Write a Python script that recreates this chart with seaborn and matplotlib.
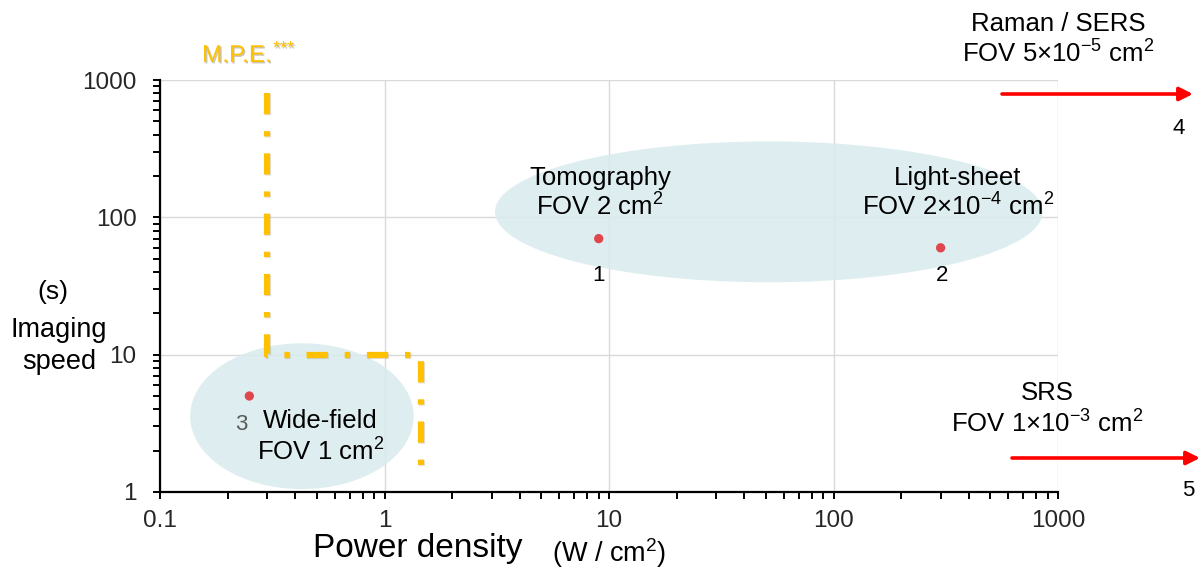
import matplotlib
matplotlib.use("Agg")
import matplotlib.pyplot as plt
import matplotlib.patheffects as pe
from matplotlib.patches import Ellipse, FancyArrowPatch
from matplotlib.ticker import FixedLocator, FixedFormatter, LogLocator, NullFormatter
import seaborn as sns
import pandas as pd

# ---------------- data ----------------
techniques = ["Tomography", "Light-sheet", "Wide-field"]
point_ids = ["1", "2", "3"]
power_density = [9, 300, 0.25]        # W / cm^2
imaging_speed = [70, 60, 5]           # s
fov_labels = ["FOV 2 cm$^{2}$", "FOV 2×10$^{-4}$ cm$^{2}$", "FOV 1 cm$^{2}$"]

mpe_x = [0.3, 0.3, 1.45, 1.45]        # M.P.E. boundary
mpe_y = [800, 10, 10, 1.28]

x_ticks = [0.1, 1, 10, 100, 1000]
x_tick_labels = ["0.1", "1", "10", "100", "1000"]
y_ticks = [1, 10, 100, 1000]
y_tick_labels = ["1", "10", "100", "1000"]

# ---------------- style ----------------
sns.set_style("white")
plt.rcParams["font.family"] = ["Liberation Sans", "DejaVu Sans"]
plt.rcParams["mathtext.fontset"] = "custom"
plt.rcParams["mathtext.rm"] = "Liberation Sans"
plt.rcParams["mathtext.it"] = "Liberation Sans:italic"
plt.rcParams["mathtext.bf"] = "Liberation Sans:bold"

W, H = 1200, 579
fig = plt.figure(figsize=(12, 5.79), dpi=100)
L, R, B, T = 160, 1058, 492, 80
ax = fig.add_axes([L / W, 1 - B / H, (R - L) / W, (B - T) / H])

ax.set_xscale("log")
ax.set_yscale("log")
ax.set_xlim(0.1, 1000)
ax.set_ylim(1, 1000)

ax.set_axisbelow(True)
ax.grid(True, which="major", color="#d9d9d9", lw=1.0)

for s in ["top", "right"]:
    ax.spines[s].set_visible(False)
for s in ["left", "bottom"]:
    ax.spines[s].set_color("black")
    ax.spines[s].set_linewidth(1.6)

ax.xaxis.set_major_locator(FixedLocator(x_ticks))
ax.xaxis.set_major_formatter(FixedFormatter(x_tick_labels))
ax.yaxis.set_major_locator(FixedLocator(y_ticks))
ax.yaxis.set_major_formatter(FixedFormatter(y_tick_labels))
ax.xaxis.set_minor_locator(LogLocator(base=10, subs=range(2, 10)))
ax.yaxis.set_minor_locator(LogLocator(base=10, subs=range(2, 10)))
ax.xaxis.set_minor_formatter(NullFormatter())
ax.yaxis.set_minor_formatter(NullFormatter())
ax.tick_params(axis="both", which="both", direction="out", length=5, width=1.4,
               color="black", left=True, bottom=True)
ax.tick_params(axis="x", which="major", labelsize=17.5, pad=8)
ax.tick_params(axis="y", which="major", labelsize=17.5, pad=12)

# ellipses (axes coordinates)
ell_color = "#d9ecee"
ax.add_patch(Ellipse((0.678, 0.680), 0.610, 0.342, transform=ax.transAxes,
                     facecolor=ell_color, edgecolor="none", alpha=0.85, zorder=0.8))
ax.add_patch(Ellipse((0.158, 0.184), 0.249, 0.354, transform=ax.transAxes,
                     facecolor=ell_color, edgecolor="none", alpha=0.85, zorder=0.8,
                     clip_on=False))

# M.P.E. boundary
ax.plot(mpe_x, mpe_y, color="#ffc000", lw=4.5, solid_capstyle="butt",
        dash_capstyle="butt", linestyle=(0, (3.4, 2.7, 0.85, 2.7)), zorder=3,
        path_effects=[pe.SimpleLineShadow(offset=(0.8, -0.8), alpha=0.12), pe.Normal()])

# points
df = pd.DataFrame({"power": power_density, "speed": imaging_speed, "tech": techniques})
sns.scatterplot(data=df, x="power", y="speed", ax=ax, color="#e0474c", s=45,
                edgecolor="none", zorder=4, legend=False)
ax.set_xlabel("")
ax.set_ylabel("")


def ftext(px, py, s, size, color="black", ha="center", **kw):
    fig.text(px / W, 1 - py / H, s, fontsize=size, color=color, ha=ha, va="center", **kw)


# labels next to points
ftext(600, 178, techniques[0], 18.5)
ftext(600, 207, fov_labels[0], 18.5)
ftext(958, 178, techniques[1], 18.5)
ftext(958, 207, fov_labels[1], 18.5)
ftext(320, 421, techniques[2], 18.5)
ftext(321, 452, fov_labels[2], 18.5)

ftext(599, 275, point_ids[0], 16)
ftext(942, 275, point_ids[1], 16)
ftext(241, 425, point_ids[2], 16, color="#595959")

# off-scale techniques
ftext(1058, 24, "Raman / SERS", 18.5)
ftext(1058, 54, "FOV 5×10$^{-5}$ cm$^{2}$", 18.5)
ftext(1047, 393, "SRS", 18.5)
ftext(1047, 424, "FOV 1×10$^{-3}$ cm$^{2}$", 18.5)
ftext(1179, 129, "4", 16)
ftext(1188, 491, "5", 16)

arrow = dict(arrowstyle="-|>", color="#ff0000", lw=2.6, mutation_scale=20,
             shrinkA=0, shrinkB=0)
fig.add_artist(FancyArrowPatch((1002 / W, 1 - 94 / H), (1193 / W, 1 - 94 / H),
                               transform=fig.transFigure, **arrow))
fig.add_artist(FancyArrowPatch((1012 / W, 1 - 458 / H), (1200 / W, 1 - 458 / H),
                               transform=fig.transFigure, **arrow))

# M.P.E. label
txt_shadow = [pe.withSimplePatchShadow(offset=(1, -1), alpha=0.3)]
fig.text(202 / W, 1 - 56 / H, "M.P.E.", fontsize=17.5, color="#ffc000", ha="left",
         va="center", path_effects=txt_shadow)
fig.text(273 / W, 1 - 49 / H, "***", fontsize=13, color="#ffc000", ha="left",
         va="center", path_effects=txt_shadow)

# axis titles
ftext(53, 292, "(s)", 19)
ftext(59, 330, "Imaging", 19.5)
ftext(59, 362, "speed", 19.5)
ftext(418, 549, "Power density", 24)
ftext(609, 553, "(W / cm$^{2}$)", 19.5)

fig.savefig("out.png", dpi=100)
